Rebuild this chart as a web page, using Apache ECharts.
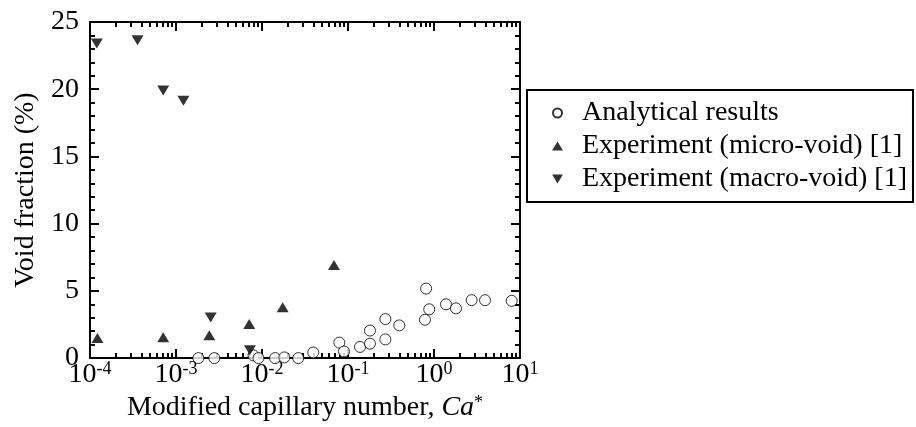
<!DOCTYPE html>
<html>
<head>
<meta charset="utf-8">
<script src="https://cdn.jsdelivr.net/npm/echarts@6/dist/echarts.min.js"></script>
<style>
  html, body { margin: 0; padding: 0; background: #fff; }
  #chart { width: 916px; height: 427px; }
</style>
</head>
<body>
<div id="chart"></div>
<script>
// Analytical results (open circles)
var caAnalytical = [0.00182, 0.00279, 0.00796, 0.0091, 0.0142, 0.0182, 0.0264, 0.0395, 0.0793, 0.0898, 0.138, 0.18, 0.18, 0.272, 0.272, 0.395, 0.785, 0.81, 0.88, 1.38, 1.8, 2.74, 3.92, 8.0]
var voidAnalytical = [0, 0, 0.2, 0, 0, 0.05, 0, 0.42, 1.15, 0.49, 0.83, 1.07, 2.05, 1.39, 2.9, 2.43, 2.85, 5.17, 3.63, 4.0, 3.7, 4.31, 4.31, 4.26]
// Experiment, micro-void (up triangles)
var caMicro = [0.000122, 0.00071, 0.00244, 0.0071, 0.0174, 0.0687]
var voidMicro = [1.5, 1.56, 1.7, 2.54, 3.78, 6.92]
// Experiment, macro-void (down triangles)
var caMacro = [0.00012, 0.000357, 0.00071, 0.00122, 0.00253, 0.00724]
var voidMacro = [23.4, 23.65, 19.9, 19.15, 3.02, 0.58]

var seriesNames = ['Analytical results', 'Experiment (micro-void) [1]', 'Experiment (macro-void) [1]']

var FONT = '"Liberation Serif", "Times New Roman", serif'
var DOWN_TRIANGLE = 'path://M0,0L12,0L6,10Z'

function pairs(xs, ys) {
  return xs.map(function (x, i) { return [x, ys[i]] })
}

// minor tick positions 2..9 within each decade of the log axis
var minorTicks = []
for (var e = -4; e < 1; e++) {
  for (var k = 2; k <= 9; k++) {
    minorTicks.push(k * Math.pow(10, e))
  }
}

function logAxis(pos, minor) {
  return {
    type: 'log',
    logBase: 10,
    min: 0.0001,
    max: 10,
    position: pos,
    splitLine: { show: false },
    axisLine: { show: !minor, onZero: false, lineStyle: { color: '#000', width: 2 } },
    axisTick: minor
      ? { show: true, inside: true, length: 5, customValues: minorTicks, lineStyle: { color: '#000', width: 2 } }
      : { show: true, inside: true, length: 9, lineStyle: { color: '#000', width: 2 } },
    axisLabel: { show: false }
  }
}

var bottomAxis = logAxis('bottom', false)
bottomAxis.name = 'Modified capillary number, {i|Ca}{s|*}'
bottomAxis.nameLocation = 'middle'
bottomAxis.nameGap = 33
bottomAxis.nameTextStyle = {
  color: '#000',
  fontFamily: FONT,
  fontSize: 28,
  lineHeight: 28,
  rich: {
    i: { fontFamily: FONT, fontSize: 28, fontStyle: 'italic', color: '#000', lineHeight: 28 },
    s: { fontFamily: FONT, fontSize: 18, color: '#000', verticalAlign: 'top', lineHeight: 18 }
  }
}
bottomAxis.axisLabel = {
  show: true,
  margin: 2,
  color: '#000',
  formatter: function (v) {
    return '{b|10}{s|' + Math.round(Math.log10(v)) + '}'
  },
  rich: {
    b: { fontFamily: FONT, fontSize: 28, color: '#000', lineHeight: 30 },
    s: { fontFamily: FONT, fontSize: 18, color: '#000', verticalAlign: 'top', lineHeight: 18 }
  }
}

function linAxis(pos, labels) {
  return {
    type: 'value',
    min: 0,
    max: 25,
    interval: 5,
    position: pos,
    splitLine: { show: false },
    axisLine: { show: true, onZero: false, lineStyle: { color: '#000', width: 2 } },
    axisTick: { show: true, inside: true, length: 9, lineStyle: { color: '#000', width: 2 } },
    minorTick: { show: true, splitNumber: 5, length: 5, lineStyle: { color: '#000', width: 2 } },
    axisLabel: labels
      ? { show: true, margin: 11, color: '#000', fontFamily: FONT, fontSize: 28 }
      : { show: false }
  }
}

var leftAxis = linAxis('left', true)
leftAxis.name = 'Void fraction (%)'
leftAxis.nameLocation = 'middle'
leftAxis.nameRotate = 90
leftAxis.nameGap = 50
leftAxis.nameTextStyle = { color: '#000', fontFamily: FONT, fontSize: 28 }

var chart = echarts.init(document.getElementById('chart'))
chart.setOption({
  animation: false,
  backgroundColor: '#fff',
  grid: { left: 90, right: 396, top: 22, bottom: 63 },
  legend: {
    orient: 'vertical',
    left: 527,
    top: 90,
    padding: [9, 6, 9, 25],
    itemWidth: 11,
    itemHeight: 9,
    itemGap: 5,
    selectedMode: false,
    borderColor: '#000',
    borderWidth: 2,
    textStyle: { color: '#000', fontFamily: FONT, fontSize: 28, lineHeight: 28, padding: [0, 0, 0, 14] },
    data: [
      { name: seriesNames[0], icon: 'circle' },
      { name: seriesNames[1], icon: 'triangle' },
      { name: seriesNames[2], icon: DOWN_TRIANGLE }
    ]
  },
  xAxis: [bottomAxis, logAxis('bottom', true), logAxis('top', false), logAxis('top', true)],
  yAxis: [leftAxis, linAxis('right', false)],
  series: [
    {
      name: seriesNames[0],
      type: 'scatter',
      symbol: 'circle',
      symbolSize: 11,
      itemStyle: { color: '#fff', borderColor: '#000', borderWidth: 1 },
      data: pairs(caAnalytical, voidAnalytical)
    },
    {
      name: seriesNames[1],
      type: 'scatter',
      symbol: 'triangle',
      symbolSize: [12, 10],
      itemStyle: { color: '#000' },
      data: pairs(caMicro, voidMicro)
    },
    {
      name: seriesNames[2],
      type: 'scatter',
      symbol: DOWN_TRIANGLE,
      symbolSize: [12, 10],
      itemStyle: { color: '#000' },
      data: pairs(caMacro, voidMacro)
    }
  ]
})
</script>
</body>
</html>
